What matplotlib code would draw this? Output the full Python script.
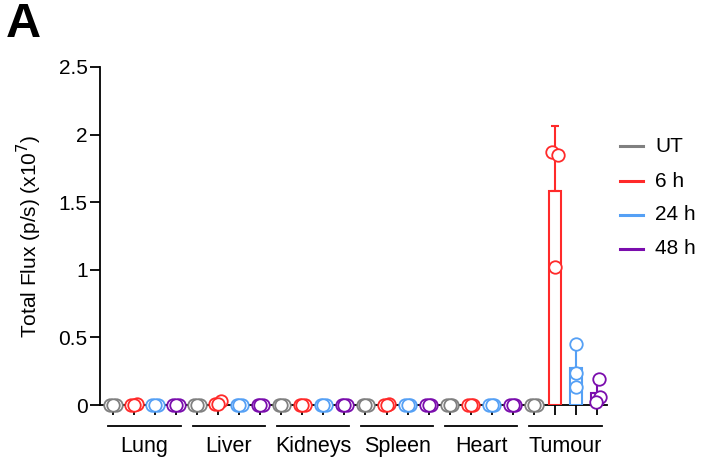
import numpy as np
import matplotlib
matplotlib.use("Agg")
import matplotlib.pyplot as plt
from matplotlib.lines import Line2D

plt.rcParams['font.family'] = ['Liberation Sans', 'DejaVu Sans']

organs = ["Lung", "Liver", "Kidneys", "Spleen", "Heart", "Tumour"]
times = ["UT", "6 h", "24 h", "48 h"]
colors = ["#808080", "#FF2A2A", "#55A0F5", "#7A0DAD"]

# values (x10^7 p/s), three replicates per organ/time
lung = [[0.0, 0.0, 0.0], [0.0, 0.005, 0.0], [0.0, 0.0, 0.0], [0.0, 0.0, 0.0]]
liver = [[0.0, 0.0, 0.0], [0.01, 0.03, 0.005], [0.0, 0.0, 0.0], [0.0, 0.0, 0.0]]
kidneys = [[0.0, 0.0, 0.0], [0.0, 0.0, 0.0], [0.0, 0.0, 0.0], [0.0, 0.0, 0.0]]
spleen = [[0.0, 0.0, 0.0], [0.0, 0.005, 0.0], [0.0, 0.0, 0.0], [0.0, 0.0, 0.0]]
heart = [[0.0, 0.0, 0.0], [0.0, 0.0, 0.0], [0.0, 0.0, 0.0], [0.0, 0.0, 0.0]]
tumour = [[0.0, 0.0, 0.0], [1.87, 1.85, 1.02], [0.45, 0.237, 0.133], [0.19, 0.06, 0.02]]
all_data = [lung, liver, kidneys, spleen, heart, tumour]

jitter = [-0.13, 0.13, 0.0]

W, H = 701, 461
fig = plt.figure(figsize=(W/100, H/100), dpi=100)
ax = fig.add_axes([100/W, 1-405/H, 507/W, 338/H])

for g, organ in enumerate(all_data):
    for t, vals in enumerate(organ):
        x = g*4 + t
        v = np.array(vals)
        m = v.mean()
        sd = v.std(ddof=1)
        c = colors[t]
        ax.bar(x, m, width=0.57, facecolor="white", edgecolor=c, linewidth=1.5, zorder=2)
        if m > 0.05:
            ax.errorbar(x, m, yerr=[[0], [sd]], color=c, capsize=3, elinewidth=1.5,
                        capthick=1.5, fmt="none", zorder=2)
        xs = x + np.array(jitter)
        if g == 5 and t == 2:
            xs = np.full(3, x)
        if g == 5 and t == 3:
            xs = x + np.array([0.1, 0.15, -0.05])
        ax.plot(xs, v, "o", ms=9, mfc="white", mec=c, mew=1.3, ls="none",
                zorder=5, clip_on=False)

ax.set_ylim(0, 2.5)
ax.set_xlim(-0.62, 23.48)
ax.set_yticks([0, 0.5, 1, 1.5, 2, 2.5])
ax.set_yticklabels(["0", "0.5", "1", "1.5", "2", "2.5"], fontsize=15)
ax.set_xticks(np.arange(24))
ax.set_xticklabels([])
ax.tick_params(axis="both", length=7, width=1.3, direction="out")
ax.tick_params(axis="y", pad=2)
for s in ["top", "right"]:
    ax.spines[s].set_visible(False)
for s in ["left", "bottom"]:
    ax.spines[s].set_linewidth(1.3)
ax.spines["bottom"].set_zorder(1)
ax.set_ylabel("Total Flux (p/s) (x10$^{7}$)", fontsize=15, labelpad=10)

trans = ax.get_xaxis_transform()
for g, name in enumerate(organs):
    c0 = g*4 + 1.5
    ax.plot([c0-1.72, c0+1.72], [-(426-405)/338]*2, color="black", lw=1.3,
            transform=trans, clip_on=False)
    ax.text(c0, -(451.5-405)/338, name, ha="center", va="baseline", fontsize=15.5,
            transform=trans)

# legend drawn manually in figure pixel coordinates
leg_y = [146, 181, 215, 249]
for c, lab, yy in zip(colors, times, leg_y):
    fig.add_artist(Line2D([620/W, 643/W], [1-yy/H, 1-yy/H], color=c, lw=2.2))
    fig.text(655/W, 1-yy/H, lab, fontsize=15, va="center", ha="left")

fig.text(6/W, 1-37/H, "A", fontsize=35, fontweight="bold", va="baseline")

fig.savefig("out.png", dpi=100)
